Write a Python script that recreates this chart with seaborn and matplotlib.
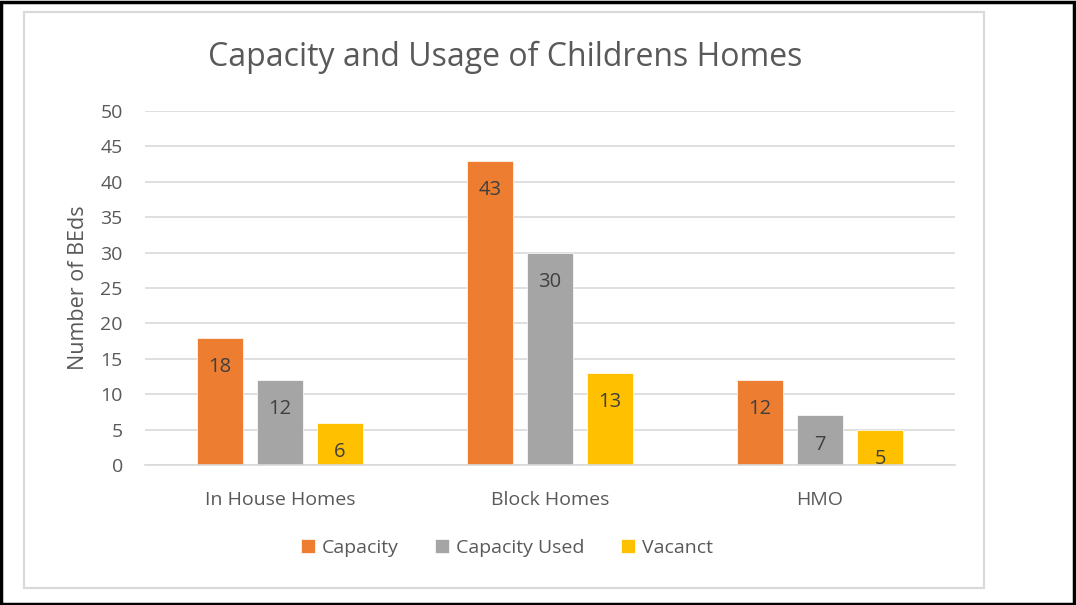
import matplotlib
matplotlib.use("Agg")
import matplotlib.pyplot as plt
import seaborn as sns
import pandas as pd
from matplotlib.patches import Rectangle

categories = ["In House Homes", "Block Homes", "HMO"]
series_names = ["Capacity", "Capacity Used", "Vacanct"]
capacity = [18, 43, 12]
capacity_used = [12, 30, 7]
vacant = [6, 13, 5]
colors = ["#ED7D31", "#A5A5A5", "#FFC000"]

rows = []
for name, vals in zip(series_names, [capacity, capacity_used, vacant]):
    for c, v in zip(categories, vals):
        rows.append({"category": c, "series": name, "value": v})
df = pd.DataFrame(rows)

sns.set_theme(style="white")
plt.rcParams["font.family"] = ["Open Sans", "DejaVu Sans"]
txt = "#595959"

fig = plt.figure(figsize=(10.76, 6.05), dpi=100)
ax = fig.add_axes([145/1076, 1-465/605, 810/1076, 354/605])

sns.barplot(data=df, x="category", y="value", hue="series", order=categories,
            hue_order=series_names, palette=colors, width=0.667, gap=0.22,
            saturation=1, ax=ax, edgecolor="white", linewidth=0.5)

ax.set_xlim(-0.5, 2.5)
ax.set_ylim(0, 50)
ax.set_yticks(range(0, 51, 5))
ax.yaxis.grid(True, color="#D9D9D9", linewidth=1.2)
ax.set_axisbelow(True)
for s in ["top", "right", "left"]:
    ax.spines[s].set_visible(False)
ax.spines["bottom"].set_color("#D9D9D9")
ax.spines["bottom"].set_linewidth(1.2)
ax.tick_params(axis="both", length=0, colors=txt, labelsize=14)
ax.tick_params(axis="x", pad=19)
ax.tick_params(axis="y", pad=16)
ax.set_xlabel("")
ax.set_ylabel("Number of BEds", color=txt, fontsize=15.5, labelpad=8)

for container in ax.containers:
    for bar in container:
        h = bar.get_height()
        ax.annotate(f"{int(h)}", (bar.get_x() + bar.get_width()/2, h),
                    xytext=(0, -21), textcoords="offset points",
                    ha="center", va="center", color="#404040", fontsize=14.5)

leg = ax.legend(loc="center", bbox_to_anchor=(507/1076, 1-548/605),
                bbox_transform=fig.transFigure, ncol=3, frameon=False,
                fontsize=14, handlelength=0.7, handleheight=0.7,
                handletextpad=0.35, columnspacing=1.9, borderaxespad=0)
for t in leg.get_texts():
    t.set_color(txt)

fig.text(505/1076, 1-57/605, "Capacity and Usage of Childrens Homes",
         ha="center", va="center", color=txt, fontsize=23)

fig.patches.append(Rectangle((24/1076, 1-588/605), 960/1076, 576/605,
                             transform=fig.transFigure, fill=False,
                             edgecolor="#D9D9D9", linewidth=1.5))
fig.patches.append(Rectangle((1/1076, 1/605), 1073/1076, 602/605,
                             transform=fig.transFigure, fill=False,
                             edgecolor="black", linewidth=2.5))

fig.savefig("out.png", dpi=100)
